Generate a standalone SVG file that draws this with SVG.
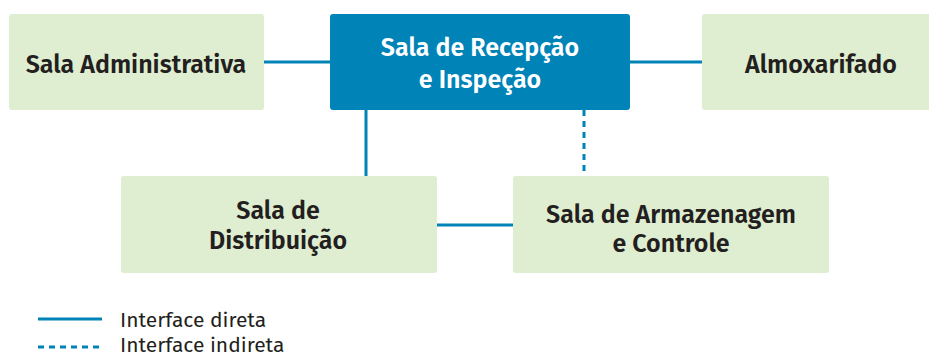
<svg xmlns="http://www.w3.org/2000/svg" width="929" height="356" viewBox="0 0 929 356">
<style>
.box{fill:#dfedd0}
.main{fill:#0083b7}
.t{font-family:"Fira Sans","Noto Sans","Liberation Sans",sans-serif;font-size:25px;font-weight:600;fill:#231f20;text-anchor:middle}
.tw{fill:#ffffff}
.c{stroke:#0083b7;stroke-width:3;fill:none}
.d{stroke-dasharray:6 5}
.lg{font-family:"Fira Sans","Noto Sans","Liberation Sans",sans-serif;font-size:21px;fill:#231f20}
</style>
<rect width="929" height="356" fill="#ffffff"/>
<g id="connectors">
<line class="c" x1="264" y1="62" x2="330" y2="62"/>
<line class="c" x1="630" y1="62" x2="702" y2="62"/>
<line class="c" x1="366" y1="110" x2="366" y2="176"/>
<line class="c d" x1="584" y1="110" x2="584" y2="176"/>
<line class="c" x1="437" y1="225" x2="513" y2="225"/>
</g>
<g id="sala-administrativa">
<rect class="box" x="9" y="14" width="255" height="96" rx="3"/>
<text class="t" x="136" y="73">Sala Administrativa</text>
</g>
<g id="sala-recepcao">
<rect class="main" x="330" y="14" width="300" height="96" rx="3"/>
<text class="t tw" x="480" y="56">Sala de Recepção</text>
<text class="t tw" x="480" y="88">e Inspeção</text>
</g>
<g id="almoxarifado">
<rect class="box" x="702" y="14" width="232" height="96" rx="3"/>
<text class="t" x="821" y="73">Almoxarifado</text>
</g>
<g id="sala-distribuicao">
<rect class="box" x="121" y="176" width="316" height="97" rx="3"/>
<text class="t" x="278" y="219">Sala de</text>
<text class="t" x="278" y="249">Distribuição</text>
</g>
<g id="sala-armazenagem">
<rect class="box" x="513" y="176" width="316" height="97" rx="3"/>
<text class="t" x="671" y="223">Sala de Armazenagem</text>
<text class="t" x="671" y="252">e Controle</text>
</g>
<g id="legend">
<line class="c" x1="38" y1="319" x2="102" y2="319"/>
<line class="c d" x1="38" y1="347" x2="102" y2="347"/>
<text class="lg" x="120" y="327">Interface direta</text>
<text class="lg" x="120" y="352">Interface indireta</text>
</g>
</svg>
